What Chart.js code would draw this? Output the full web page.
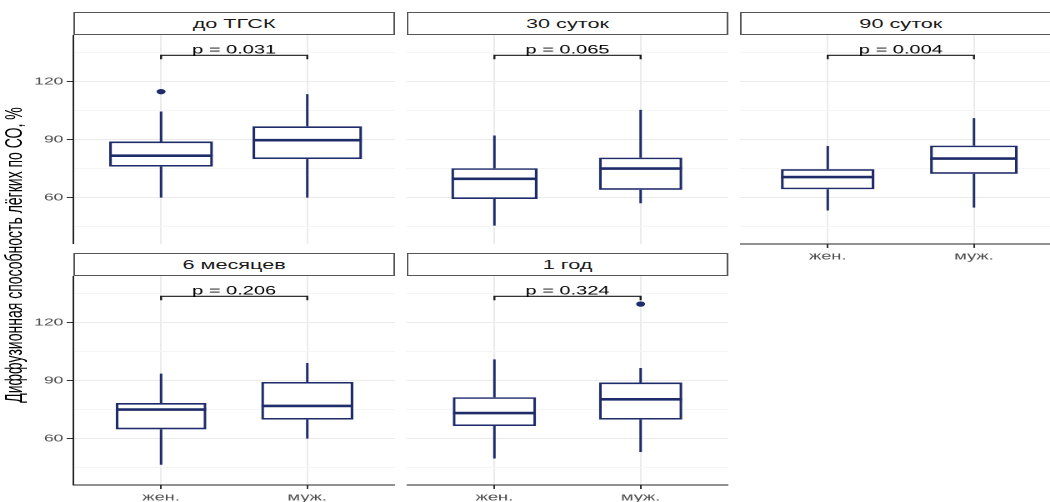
<!DOCTYPE html>
<html>
<head>
<meta charset="utf-8">
<script src="https://cdn.jsdelivr.net/npm/chart.js@4.4.1/dist/chart.umd.min.js"></script>
<style>
  html, body { margin: 0; padding: 0; background: #fff; overflow: hidden; }
  body { width: 1050px; height: 502px; }
  /* the figure is laid out at 630 px wide and widened to the window */
  #stage {
    position: absolute; left: 0; top: 0; width: 630px; height: 502px;
    transform: scaleX(1.6667); transform-origin: 0 0;
    font-family: "Liberation Sans", Arial, sans-serif;
  }
  .strip {
    position: absolute; box-sizing: border-box; border: 1px solid #555;
    background: #fff; color: #1a1a1a; font-size: 13px; text-align: center;
    white-space: nowrap;
  }
  canvas { position: absolute; }
  #ytitle {
    position: absolute; left: 8px; top: 255px; white-space: nowrap;
    font-size: 14px; color: #000;
    transform: translate(-50%, -50%) rotate(-90deg);
  }
</style>
</head>
<body>
<div id="stage">
  <div id="ytitle">Диффузионная способность лёгких по СО, %</div>
</div>
<script>
// ---- data -------------------------------------------------------------
const panelTitles = ['до ТГСК', '30 суток', '90 суток', '6 месяцев', '1 год'];
const groups = ['жен.', 'муж.'];
const yTickLabels = [60, 90, 120];
const yMinorTicks = [45, 75, 105, 135];

// box-plot summaries, one [жен., муж.] pair per panel
const whiskerLow  = [[60.0, 60.0], [45.5, 57.1], [53.3, 54.8], [46.5, 60.0], [49.7, 53.1]];
const quartile1   = [[76.0, 79.9], [59.3, 64.0], [64.3, 72.3], [64.8, 69.8], [66.5, 69.8]];
const medians     = [[81.7, 89.7], [69.7, 75.0], [70.6, 80.2], [75.0, 76.9], [73.2, 80.3]];
const quartile3   = [[89.0, 96.9], [75.2, 80.7], [74.7, 86.9], [78.4, 89.3], [81.4, 89.0]];
const whiskerHigh = [[104.5, 113.5], [92.1, 105.4], [86.7, 101.1], [93.6, 99.1], [101.0, 96.5]];
const outliers    = [[[114.8], []], [[], []], [[], []], [[], []], [[], [129.6]]];
const pValues     = ['0.031', '0.065', '0.004', '0.206', '0.324'];
const bracketLevel = 133.6;

// ---- appearance ---------------------------------------------------------
// box widths as a share of the spacing between the two groups
const boxWidths = [[0.71, 0.75], [0.59, 0.57], [0.64, 0.60], [0.62, 0.63], [0.57, 0.57]];
const NAVY = '#1f2c6a';
const FONT = '"Liberation Sans", Arial, sans-serif';
const Y_MIN = 36, Y_MAX = 144.1;
const LEFT = 44, PANEL_W = 193, GAP = 7, PANEL_H = 209;
const ROW_TOP = [35, 276];
const STRIP_H = 23, YAXIS_W = 44, XAXIS_H = 24;
const panelGrid = [
  { col: 0, row: 0, yAxis: true,  xAxis: false },
  { col: 1, row: 0, yAxis: false, xAxis: false },
  { col: 2, row: 0, yAxis: false, xAxis: true  },
  { col: 0, row: 1, yAxis: true,  xAxis: true  },
  { col: 1, row: 1, yAxis: false, xAxis: true  }
];

// whiskers, medians and the comparison bracket
const boxParts = {
  id: 'boxParts',
  beforeDatasetsDraw(chart, args, opts) {
    const i = opts.panel, { ctx } = chart, { x, y } = chart.scales;
    ctx.save();
    ctx.strokeStyle = NAVY;
    ctx.lineWidth = 1.5;
    groups.forEach((g, j) => {
      const px = x.getPixelForValue(j + 1);
      ctx.beginPath();
      ctx.moveTo(px, y.getPixelForValue(whiskerLow[i][j]));
      ctx.lineTo(px, y.getPixelForValue(quartile1[i][j]));
      ctx.moveTo(px, y.getPixelForValue(quartile3[i][j]));
      ctx.lineTo(px, y.getPixelForValue(whiskerHigh[i][j]));
      ctx.stroke();
    });
    ctx.restore();
  },
  afterDatasetsDraw(chart, args, opts) {
    const i = opts.panel, { ctx } = chart, { x, y } = chart.scales;
    const unit = x.getPixelForValue(2) - x.getPixelForValue(1);
    ctx.save();
    ctx.strokeStyle = NAVY;
    ctx.lineWidth = 2.6;
    groups.forEach((g, j) => {
      const px = x.getPixelForValue(j + 1);
      const half = boxWidths[i][j] * unit / 2 - 0.2;
      const py = y.getPixelForValue(medians[i][j]);
      ctx.beginPath();
      ctx.moveTo(px - half, py);
      ctx.lineTo(px + half, py);
      ctx.stroke();
    });
    ctx.restore();
  },
  afterDraw(chart, args, opts) {
    const i = opts.panel, { ctx } = chart, { x, y } = chart.scales;
    const x1 = x.getPixelForValue(1), x2 = x.getPixelForValue(2);
    const by = y.getPixelForValue(bracketLevel);
    ctx.save();
    ctx.strokeStyle = '#1a1a1a';
    ctx.lineWidth = 1.2;
    ctx.beginPath();
    ctx.moveTo(x1, by + 4);
    ctx.lineTo(x1, by);
    ctx.lineTo(x2, by);
    ctx.lineTo(x2, by + 4);
    ctx.stroke();
    ctx.fillStyle = '#000';
    ctx.font = '12px ' + FONT;
    ctx.textAlign = 'center';
    ctx.textBaseline = 'alphabetic';
    ctx.fillText('p = ' + pValues[i], (x1 + x2) / 2, by - 2);
    ctx.restore();
  }
};

const stage = document.getElementById('stage');

panelGrid.forEach((p, i) => {
  const left = LEFT + p.col * (PANEL_W + GAP);
  const top = ROW_TOP[p.row];

  const strip = document.createElement('div');
  strip.className = 'strip';
  strip.style.left = left + 'px';
  strip.style.top = (top - STRIP_H) + 'px';
  strip.style.width = PANEL_W + 'px';
  strip.style.height = STRIP_H + 'px';
  strip.style.lineHeight = (STRIP_H - 2) + 'px';
  strip.textContent = panelTitles[i];
  stage.appendChild(strip);

  const canvas = document.createElement('canvas');
  const cw = PANEL_W + (p.yAxis ? YAXIS_W : 0);
  const ch = PANEL_H + (p.xAxis ? XAXIS_H : 0);
  canvas.width = cw;
  canvas.height = ch;
  canvas.style.left = (p.yAxis ? left - YAXIS_W : left) + 'px';
  canvas.style.top = top + 'px';
  canvas.style.width = cw + 'px';
  canvas.style.height = ch + 'px';
  stage.appendChild(canvas);

  const datasets = groups.map((g, j) => ({
    type: 'bar',
    label: g,
    data: [{ x: j + 1, y: [quartile1[i][j], quartile3[i][j]] }],
    backgroundColor: '#ffffff',
    borderColor: NAVY,
    borderWidth: 1.7,
    borderSkipped: false,
    grouped: false,
    categoryPercentage: 1,
    barPercentage: boxWidths[i][j],
    order: 2
  }));
  const outlierPoints = [];
  groups.forEach((g, j) => outliers[i][j].forEach(v => outlierPoints.push({ x: j + 1, y: v })));
  datasets.push({
    type: 'scatter',
    data: outlierPoints,
    pointRadius: 2.7,
    pointBackgroundColor: NAVY,
    pointBorderWidth: 0,
    order: 1
  });

  const isMajor = c => c.tick && yTickLabels.includes(c.tick.value);

  new Chart(canvas, {
    type: 'bar',
    data: { datasets },
    plugins: [boxParts],
    options: {
      responsive: false,
      animation: false,
      devicePixelRatio: 2,
      layout: { padding: 0, autoPadding: false },
      plugins: {
        legend: { display: false },
        tooltip: { enabled: false },
        boxParts: { panel: i }
      },
      scales: {
        x: {
          type: 'linear', min: 0.4, max: 2.6, offset: false,
          afterBuildTicks: s => { s.ticks = groups.map((g, j) => ({ value: j + 1 })); },
          afterFit: s => {
            s.height = p.xAxis ? XAXIS_H : 0;
            s.paddingLeft = s.paddingRight = s.paddingTop = s.paddingBottom = 0;
          },
          ticks: {
            display: p.xAxis, autoSkip: false, maxRotation: 0, padding: 2,
            color: '#4d4d4d', font: { family: FONT, size: 11 },
            callback: v => groups[v - 1]
          },
          grid: {
            offset: false, color: '#ebebeb', lineWidth: 1,
            drawTicks: p.xAxis, tickLength: 4, tickColor: '#333'
          },
          border: { display: p.xAxis, color: '#222', width: 1 }
        },
        y: {
          type: 'linear', min: Y_MIN, max: Y_MAX,
          afterBuildTicks: s => {
            s.ticks = yTickLabels.concat(yMinorTicks).sort((a, b) => a - b).map(v => ({ value: v }));
          },
          afterFit: s => {
            s.width = p.yAxis ? YAXIS_W : 0;
            s.paddingLeft = s.paddingRight = s.paddingTop = s.paddingBottom = 0;
          },
          ticks: {
            display: p.yAxis, padding: 2, color: '#4d4d4d', font: { family: FONT, size: 10.5 },
            callback: v => yTickLabels.includes(v) ? String(v) : ''
          },
          grid: {
            color: c => isMajor(c) ? '#ebebeb' : '#f5f5f5',
            lineWidth: 1,
            drawTicks: p.yAxis, tickLength: 4,
            tickColor: c => isMajor(c) ? '#333' : 'rgba(0,0,0,0)'
          },
          border: { display: p.yAxis, color: '#222', width: 1 }
        }
      }
    }
  });
});
</script>
</body>
</html>
